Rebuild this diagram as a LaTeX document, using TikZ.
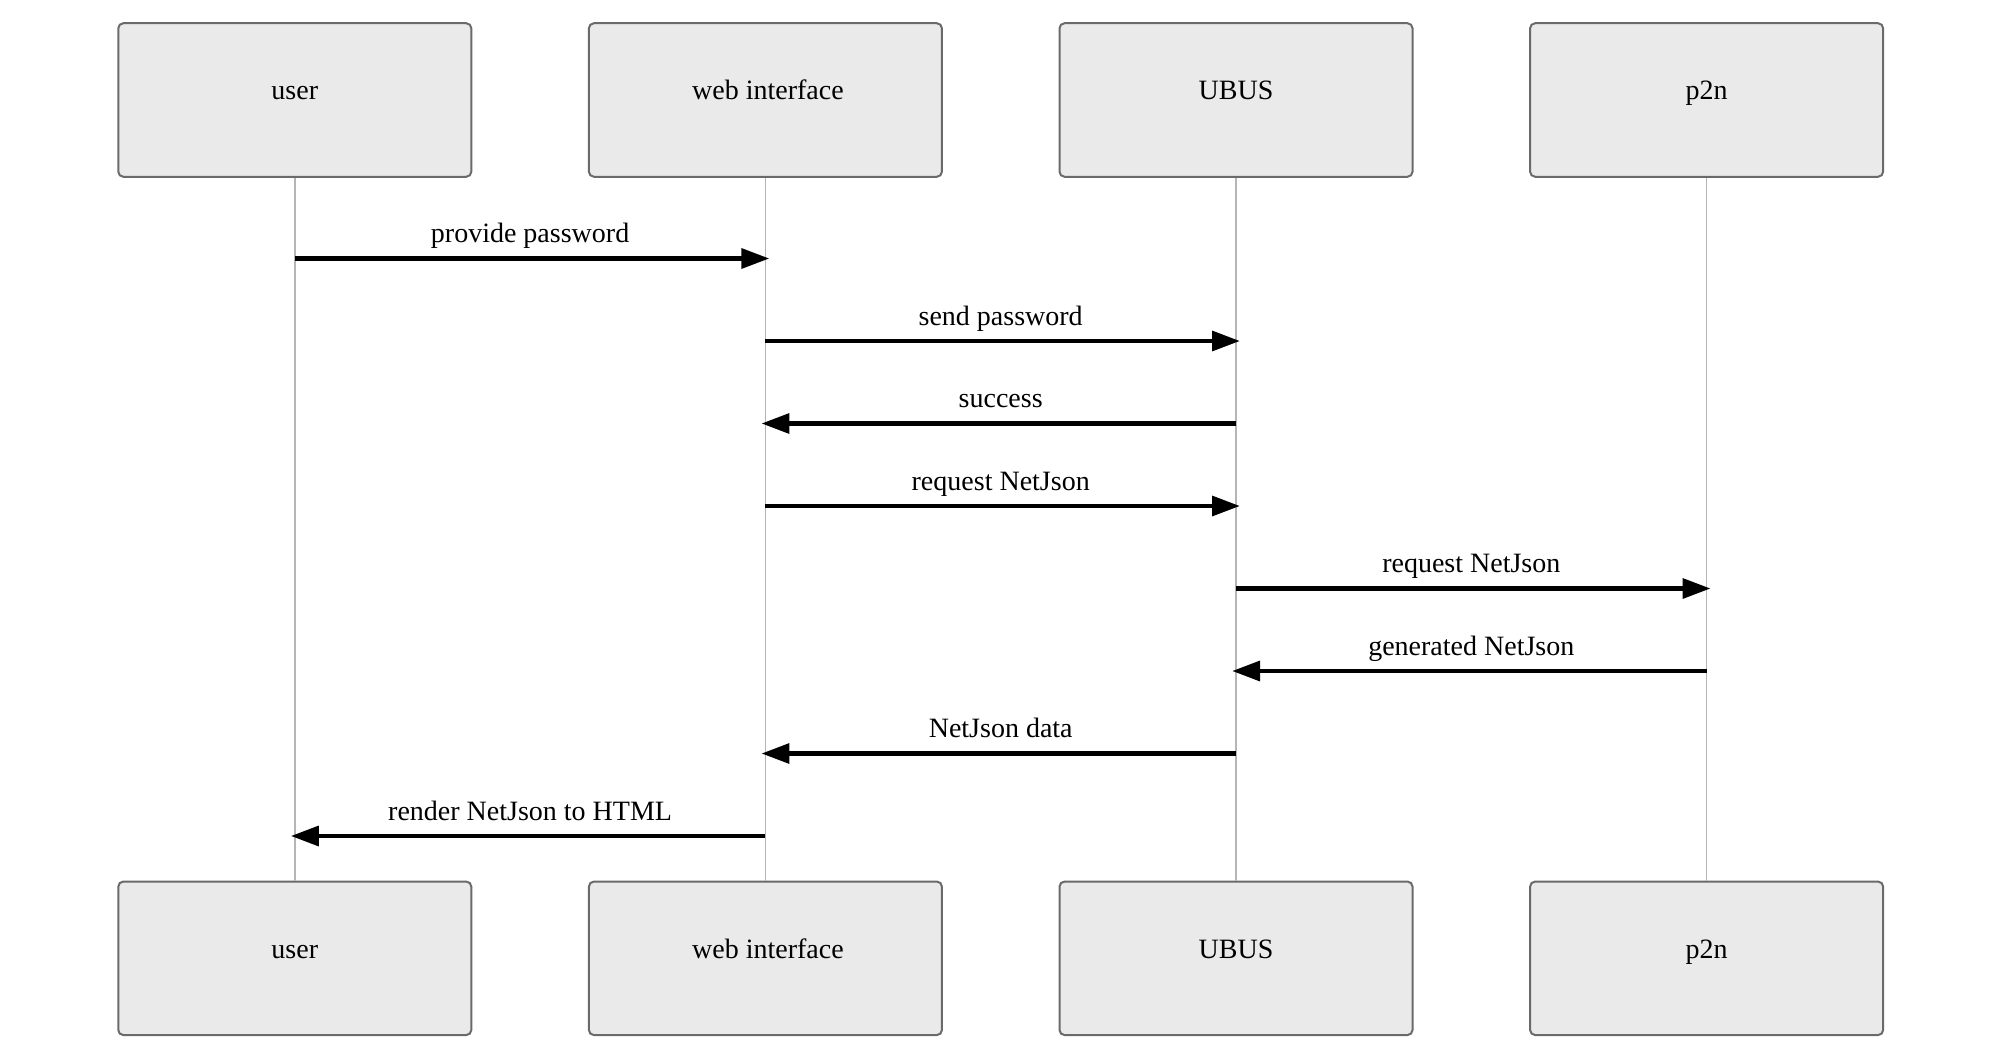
\documentclass[tikz,border=0pt]{standalone}
\usepackage{fontspec}
\setmainfont{Liberation Serif}
\usetikzlibrary{arrows.meta}
\definecolor{actorfill}{HTML}{EAEAEA}
\definecolor{actorline}{HTML}{6A6A6A}
\definecolor{lifecol}{HTML}{B5B5B5}
\begin{document}
\begin{tikzpicture}[x=1pt,y=-1pt,
  font=\fontsize{28}{34}\selectfont,
  actor/.style={draw=actorline, line width=2pt, fill=actorfill, rounded corners=5pt,
    minimum width=353pt, minimum height=153.5pt, inner sep=0pt},
  actortext/.style={anchor=base, inner sep=0pt},
  life/.style={draw=lifecol, line width=1.5pt},
  msg/.style={line width=4.7pt, -{Triangle[length=28pt,width=19.5pt]}, shorten >=-4pt},
  lbl/.style={anchor=base, inner sep=0pt, yshift=16pt}]
\useasboundingbox (0,0) rectangle (2001,1038);
% top actors
\node[actor] (ut) at (294.8,100) {};
\node[actor] (wt) at (765.4,100) {};
\node[actor] (bt) at (1236,100) {};
\node[actor] (pt) at (1706.6,100) {};
% bottom actors
\node[actor] (ub) at (294.8,958.3) {};
\node[actor] (wb) at (765.4,958.3) {};
\node[actor] (bb) at (1236,958.3) {};
\node[actor] (pb) at (1706.6,958.3) {};
% actor texts
\node[actortext] (utx) at (ut.center) {user};
\node[actortext, xshift=2.5pt] (wtx) at (wt.center) {web interface};
\node[actortext] (btx) at (bt.center) {UBUS};
\node[actortext] (ptx) at (pt.center) {p2n};
\node[actortext] (ubx) at (ub.center) {user};
\node[actortext, xshift=2.5pt] (wbx) at (wb.center) {web interface};
\node[actortext] (bbx) at (bb.center) {UBUS};
\node[actortext] (pbx) at (pb.center) {p2n};
% lifelines
\draw[life] (ut.south) -- (ub.north);
\draw[life] (wt.south) -- (wb.north);
\draw[life] (bt.south) -- (bb.north);
\draw[life] (pt.south) -- (pb.north);
% message anchor points
\foreach \i/\y in {1/258.5,2/341,3/423.5,4/506,5/588.5,6/671,7/753.5,8/836}{
  \coordinate (u\i) at (ut.center |- 0,\y);
  \coordinate (w\i) at (wt.center |- 0,\y);
  \coordinate (b\i) at (bt.center |- 0,\y);
  \coordinate (p\i) at (pt.center |- 0,\y);
}
% messages
\draw[msg] (u1) -- node[lbl] (l1) {provide password} (w1);
\draw[msg] (w2) -- node[lbl] (l2) {send password} (b2);
\draw[msg] (b3) -- node[lbl] (l3) {success} (w3);
\draw[msg] (w4) -- node[lbl] (l4) {request NetJson} (b4);
\draw[msg] (b5) -- node[lbl] (l5) {request NetJson} (p5);
\draw[msg] (p6) -- node[lbl] (l6) {generated NetJson} (b6);
\draw[msg] (b7) -- node[lbl] (l7) {NetJson data} (w7);
\draw[msg] (w8) -- node[lbl] (l8) {render NetJson to HTML} (u8);
\end{tikzpicture}
\end{document}
